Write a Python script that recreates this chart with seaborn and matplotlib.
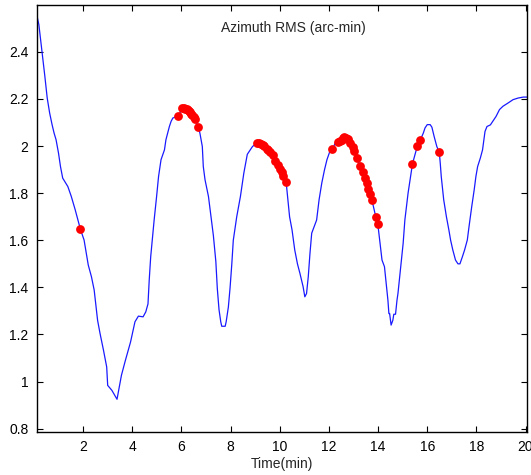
import matplotlib
matplotlib.use("Agg")
import matplotlib.pyplot as plt
import seaborn as sns
import pandas as pd
from matplotlib.ticker import FuncFormatter, FixedLocator

# ---- data ----
time_min = [0.11, 0.20, 0.33, 0.44, 0.54, 0.64, 0.74, 0.82, 0.90, 1.00, 1.08, 1.17, 1.38, 1.52, 1.68,
            1.89, 2.04, 2.21, 2.34, 2.45, 2.59, 2.69, 2.83, 2.96, 3.00, 3.17, 3.38, 3.47, 3.56, 3.72,
            3.93, 4.11, 4.25, 4.44, 4.55, 4.64, 4.69, 4.75, 4.89, 4.99, 5.07, 5.17, 5.31, 5.37, 5.51,
            5.58, 5.65, 5.88, 6.04, 6.15, 6.26, 6.35, 6.45, 6.56, 6.67, 6.75, 6.85, 6.89, 6.96, 7.10,
            7.30, 7.40, 7.46, 7.53, 7.60, 7.64, 7.78, 7.82, 7.91, 7.98, 8.05, 8.11, 8.25, 8.40, 8.54,
            8.68, 8.89, 9.09, 9.23, 9.36, 9.47, 9.61, 9.72, 9.81, 9.91, 9.99, 10.08, 10.15, 10.26,
            10.33, 10.40, 10.50, 10.61, 10.72, 10.82, 10.95, 11.02, 11.09, 11.16, 11.23, 11.30, 11.50,
            11.60, 11.71, 11.82, 11.92, 12.06, 12.14, 12.26, 12.39, 12.52, 12.63, 12.76, 12.86, 12.97,
            13.03, 13.14, 13.27, 13.37, 13.48, 13.54, 13.61, 13.68, 13.75, 13.91, 13.99, 14.05, 14.16,
            14.26, 14.33, 14.40, 14.44, 14.47, 14.53, 14.60, 14.64, 14.71, 14.77, 14.81, 14.88, 15.02,
            15.09, 15.22, 15.32, 15.40, 15.50, 15.60, 15.71, 15.84, 15.91, 16.00, 16.12, 16.19, 16.28,
            16.39, 16.49, 16.53, 16.57, 16.67, 16.78, 16.88, 16.95, 17.04, 17.15, 17.25, 17.33, 17.43,
            17.52, 17.63, 17.70, 17.81, 17.91, 17.98, 18.05, 18.16, 18.25, 18.35, 18.43, 18.57, 18.71,
            18.80, 18.94, 19.08, 19.29, 19.49, 19.70, 19.91, 20.07]
azimuth_rms = [2.559, 2.516, 2.400, 2.300, 2.204, 2.140, 2.090, 2.055, 2.027, 1.970, 1.913, 1.864, 1.828,
               1.786, 1.729, 1.647, 1.601, 1.495, 1.445, 1.389, 1.260, 1.204, 1.133, 1.062, 0.984, 0.963,
               0.925, 0.977, 1.027, 1.090, 1.168, 1.254, 1.278, 1.275, 1.296, 1.330, 1.431, 1.530, 1.686,
               1.786, 1.871, 1.942, 1.984, 2.027, 2.083, 2.105, 2.119, 2.129, 2.162, 2.159, 2.152, 2.143,
               2.130, 2.116, 2.083, 2.056, 1.998, 1.913, 1.857, 1.786, 1.620, 1.510, 1.395, 1.305, 1.254,
               1.235, 1.235, 1.254, 1.317, 1.400, 1.500, 1.600, 1.700, 1.786, 1.886, 1.965, 1.998, 2.015,
               2.010, 2.001, 1.989, 1.974, 1.960, 1.937, 1.920, 1.903, 1.889, 1.874, 1.847, 1.772, 1.700,
               1.644, 1.559, 1.500, 1.460, 1.403, 1.360, 1.374, 1.445, 1.545, 1.630, 1.686, 1.772, 1.843,
               1.899, 1.942, 1.984, 1.987, 2.013, 2.017, 2.027, 2.037, 2.030, 2.013, 1.994, 1.977, 1.949,
               1.917, 1.889, 1.864, 1.843, 1.818, 1.797, 1.771, 1.698, 1.668, 1.615, 1.516, 1.488, 1.417,
               1.346, 1.289, 1.289, 1.240, 1.260, 1.286, 1.286, 1.346, 1.375, 1.445, 1.587, 1.686, 1.800,
               1.871, 1.925, 1.963, 2.001, 2.024, 2.055, 2.077, 2.091, 2.091, 2.080, 2.041, 1.998, 1.974,
               1.927, 1.871, 1.772, 1.700, 1.644, 1.601, 1.559, 1.516, 1.500, 1.500, 1.530, 1.559, 1.601,
               1.658, 1.743, 1.814, 1.871, 1.913, 1.949, 1.984, 2.062, 2.083, 2.090, 2.112, 2.126, 2.155,
               2.169, 2.183, 2.197, 2.204, 2.208, 2.208]

marked_time = [1.89, 5.88, 6.04, 6.10, 6.15, 6.21, 6.26, 6.31, 6.35, 6.40, 6.45, 6.50, 6.56, 6.67,
               9.09, 9.16, 9.23, 9.30, 9.36, 9.47, 9.54, 9.61, 9.72, 9.81, 9.91, 9.99, 10.08, 10.15, 10.26,
               12.14, 12.39, 12.46, 12.52, 12.58, 12.63, 12.70, 12.76, 12.86, 12.97, 13.03, 13.14, 13.27,
               13.37, 13.48, 13.54, 13.61, 13.68, 13.75, 13.91, 13.99,
               15.40, 15.60, 15.71, 16.49]
marked_rms = [1.647, 2.129, 2.162, 2.163, 2.159, 2.156, 2.152, 2.148, 2.143, 2.137, 2.130, 2.124, 2.116, 2.083,
              2.015, 2.013, 2.010, 2.006, 2.001, 1.989, 1.982, 1.974, 1.960, 1.937, 1.920, 1.903, 1.889, 1.874, 1.847,
              1.987, 2.017, 2.022, 2.027, 2.033, 2.037, 2.034, 2.030, 2.013, 1.994, 1.977, 1.949, 1.917,
              1.889, 1.864, 1.843, 1.818, 1.797, 1.771, 1.698, 1.668,
              1.925, 2.001, 2.024, 1.974]

x_ticks = [2, 4, 6, 8, 10, 12, 14, 16, 18, 20]
y_ticks = [0.8, 1.0, 1.2, 1.4, 1.6, 1.8, 2.0, 2.2, 2.4]
title_text = "Azimuth RMS (arc-min)"
x_label = "Time(min)"

# ---- plot ----
sns.set_theme(style="white")
plt.rcParams['font.family'] = ['Liberation Sans', 'DejaVu Sans']

line_df = pd.DataFrame({"t": time_min, "v": azimuth_rms})
pts_df = pd.DataFrame({"t": marked_time, "v": marked_rms})

fig = plt.figure(figsize=(5.31, 4.75), dpi=100)
ax = fig.add_axes([0.069, 0.091, 0.924, 0.899])

sns.lineplot(data=line_df, x="t", y="v", ax=ax, color="#1a1aff", linewidth=0.9,
             sort=False, estimator=None)
sns.scatterplot(data=pts_df, x="t", y="v", ax=ax, color="#ff0000", s=40,
                edgecolor="#ff0000", linewidth=0, zorder=3)

ax.set_xlim(0.11, 20.07)
ax.set_ylim(0.787, 2.6)
ax.xaxis.set_major_locator(FixedLocator(x_ticks))
ax.yaxis.set_major_locator(FixedLocator(y_ticks))
ax.yaxis.set_major_formatter(FuncFormatter(lambda v, p: "%g" % v))
ax.xaxis.set_major_formatter(FuncFormatter(lambda v, p: "%g" % v))
ax.tick_params(axis="both", which="major", direction="in", length=4, width=0.8,
               top=True, right=True, bottom=True, left=True,
               labelsize=10, colors="black", pad=6)
for s in ax.spines.values():
    s.set_color("black")
    s.set_linewidth(1.0)

ax.set_xlabel(x_label, fontsize=10, labelpad=2)
ax.set_ylabel("")
ax.text(0.523, 0.946, title_text, transform=ax.transAxes, ha="center", va="center",
        fontsize=10)

fig.savefig("out.png", dpi=100)
